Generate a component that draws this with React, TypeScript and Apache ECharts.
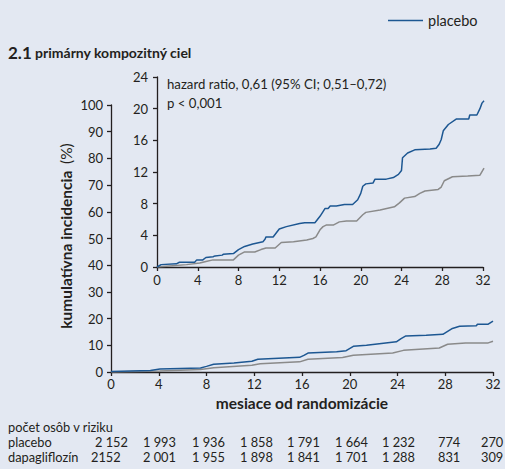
import React, { useEffect, useRef } from "react";
import * as echarts from "echarts";

// ---------- data ----------
const xTickValues = [0, 4, 8, 12, 16, 20, 24, 28, 32];

// inset (zoomed 0–24 %)
const insetPlacebo: [number, number][] = [
  [0, 0], [0.4, 0.3], [1.9, 0.4], [2.2, 0.6], [3.7, 0.6], [3.9, 0.9], [4.5, 0.9], [4.8, 1.2],
  [5.5, 1.3], [5.7, 1.4], [6.4, 1.5], [6.5, 1.6], [7.5, 1.7], [8.0, 2.2], [8.6, 2.6], [9.4, 2.9],
  [10.4, 3.2], [10.6, 3.5], [10.7, 3.8], [11.4, 3.8], [12.0, 4.8], [12.7, 5.1], [14.0, 5.5],
  [14.5, 5.6], [15.5, 5.6], [16.0, 6.4], [16.3, 7.0], [16.5, 7.4], [16.8, 7.4], [17.0, 7.7],
  [17.6, 7.7], [18.4, 7.9], [19.2, 7.9], [19.7, 8.5], [20.0, 9.3], [20.2, 10.2], [20.5, 10.5],
  [21.2, 10.6], [21.4, 11.1], [22.5, 11.1], [23.2, 11.3], [23.7, 11.7], [24.0, 12.2], [24.1, 13.8],
  [24.6, 14.4], [25.3, 14.8], [26.8, 14.9], [27.4, 15.0], [27.7, 15.5], [27.9, 16.1], [28.1, 17.2],
  [28.6, 18.0], [29.4, 18.7], [30.6, 18.7], [30.7, 19.2], [31.4, 19.2], [31.7, 20.0], [31.9, 20.7],
  [32.1, 21.0],
];
const insetDapa: [number, number][] = [
  [0, 0], [0.9, 0.1], [2.9, 0.3], [4.2, 0.5], [4.8, 0.7], [5.5, 0.9], [7.5, 0.9], [8.0, 1.5],
  [8.6, 1.9], [9.6, 1.9], [10.2, 2.2], [10.7, 2.4], [11.6, 2.4], [12.2, 3.1], [13.4, 3.2],
  [14.7, 3.4], [15.3, 3.6], [15.6, 3.8], [16.0, 4.7], [16.3, 5.1], [16.6, 5.3], [17.3, 5.3],
  [17.9, 5.7], [18.6, 5.8], [19.6, 5.8], [20.2, 6.6], [20.5, 6.9], [21.9, 7.2], [23.3, 7.6],
  [23.8, 8.1], [24.3, 8.7], [25.3, 8.9], [25.8, 9.3], [26.3, 9.6], [27.6, 9.8], [27.9, 10.1],
  [28.2, 10.9], [29.0, 11.4], [30.5, 11.5], [31.7, 11.6], [32.1, 12.5],
];

// main (0–100 %)
const mainPlacebo: [number, number][] = [
  [0, 0.2], [3.3, 0.6], [4.1, 1.1], [7.5, 1.5], [8.0, 2.1], [8.6, 2.9], [10.3, 3.4], [11.8, 4.0],
  [12.3, 4.8], [15.8, 5.5], [16.2, 6.3], [16.5, 7.1], [18.9, 7.6], [19.7, 8.0], [20.3, 9.6],
  [21.4, 10.0], [23.9, 11.3], [24.3, 12.5], [24.7, 13.5], [26.4, 13.8], [27.8, 14.1], [28.6, 16.3],
  [29.2, 17.1], [30.6, 17.3], [30.7, 17.9], [31.6, 17.9], [32, 19.1],
];
const mainDapa: [number, number][] = [
  [0, 0], [4.1, 0.4], [7.5, 0.9], [8.6, 1.6], [11.8, 2.5], [12.5, 3.1], [15.8, 3.8], [16.5, 4.8],
  [19.4, 5.4], [20.3, 6.3], [23.6, 7.1], [24.5, 8.1], [27.5, 9.0], [28.2, 10.4], [29.7, 10.9],
  [31.6, 10.9], [32, 11.5],
];

// number at risk
const riskPlacebo = ["2 152", "1 993", "1 936", "1 858", "1 791", "1 664", "1 232", "774", "270"];
const riskDapa = ["2152", "2 001", "1 955", "1 898", "1 841", "1 701", "1 288", "831", "309"];

// ---------- layout ----------
const W = 505;
const H = 469;
const FONT = "Lato, 'Noto Sans', sans-serif";
const TXT = "#231f20";
const BLUE = "#1d5792";
const GRAY = "#8a8a8a";
const riskColX = [95, 143, 192, 240, 287, 335, 382, 438, 481];

export default function App() {
  const ref = useRef<HTMLDivElement>(null);

  useEffect(() => {
    if (!ref.current) return;
    const chart = echarts.init(ref.current, null, { renderer: "svg", width: W, height: H });

    const axisLine = { show: true, lineStyle: { color: TXT, width: 1.3 } };
    const axisTick = { show: true, inside: false, length: 4, lineStyle: { color: TXT, width: 1.3 } };
    const label = { color: TXT, fontFamily: FONT, fontSize: 13 };
    const TABLE_FONT = `12.8px ${FONT}`;

    const riskTexts: any[] = [];
    riskPlacebo.forEach((t, i) => {
      riskTexts.push({
        type: "text", x: riskColX[i], y: 442,
        style: { text: t, fill: TXT, font: TABLE_FONT, align: "left", verticalAlign: "middle" },
      });
    });
    riskDapa.forEach((t, i) => {
      riskTexts.push({
        type: "text", x: i === 0 ? riskColX[i] - 4 : riskColX[i], y: 457,
        style: { text: t, fill: TXT, font: TABLE_FONT, align: "left", verticalAlign: "middle" },
      });
    });

    chart.setOption({
      animation: false,
      backgroundColor: "#e3e8f2",
      textStyle: { fontFamily: FONT },
      legend: {
        data: ["placebo"],
        left: 383,
        top: 8,
        icon: "rect",
        itemWidth: 35,
        itemHeight: 1.5,
        itemGap: 4,
        textStyle: { color: TXT, fontFamily: FONT, fontSize: 14.5 },
      },
      grid: [
        { left: 111, right: W - 493, top: 105, bottom: H - 372, containLabel: false },
        { left: 157, right: W - 483, top: 77, bottom: H - 267, containLabel: false },
      ],
      xAxis: [
        {
          type: "value", gridIndex: 0, min: 0, max: 32, interval: 4,
          axisLine, axisTick, splitLine: { show: false },
          axisLabel: { ...label, margin: 5 },
        },
        {
          type: "value", gridIndex: 1, min: 0, max: 32, interval: 4,
          axisLine, axisTick, splitLine: { show: false },
          axisLabel: { ...label, margin: 6 },
        },
      ],
      yAxis: [
        {
          type: "value", gridIndex: 0, min: 0, max: 100, interval: 10,
          axisLine, axisTick, splitLine: { show: false },
          axisLabel: { ...label, margin: 8 },
        },
        {
          type: "value", gridIndex: 1, min: 0, max: 24, interval: 4,
          axisLine, axisTick, splitLine: { show: false },
          axisLabel: { ...label, margin: 9 },
        },
      ],
      series: [
        {
          name: "dapagliflozín", type: "line", xAxisIndex: 0, yAxisIndex: 0, data: mainDapa,
          showSymbol: false, symbol: "none", lineStyle: { color: GRAY, width: 1.5 }, itemStyle: { color: GRAY },
        },
        {
          name: "placebo", type: "line", xAxisIndex: 0, yAxisIndex: 0, data: mainPlacebo,
          showSymbol: false, symbol: "none", lineStyle: { color: BLUE, width: 1.5 }, itemStyle: { color: BLUE },
        },
        {
          name: "dapagliflozín", type: "line", xAxisIndex: 1, yAxisIndex: 1, data: insetDapa,
          showSymbol: false, symbol: "none", lineStyle: { color: GRAY, width: 1.5 }, itemStyle: { color: GRAY },
        },
        {
          name: "placebo", type: "line", xAxisIndex: 1, yAxisIndex: 1, data: insetPlacebo,
          showSymbol: false, symbol: "none", lineStyle: { color: BLUE, width: 1.5 }, itemStyle: { color: BLUE },
        },
      ],
      graphic: [
        {
          type: "text", x: 8, y: 52,
          style: {
            text: "{a|2.1} {b|primárny kompozitný ciel}",
            verticalAlign: "middle",
            rich: {
              a: { fontFamily: FONT, fontSize: 17, fontWeight: "bold", fill: TXT, color: TXT },
              b: { fontFamily: FONT, fontSize: 14, fontWeight: "bold", fill: TXT, color: TXT },
            },
          },
        },
        {
          type: "text", x: 167, y: 84,
          style: { text: "hazard ratio, 0,61 (95% CI; 0,51–0,72)", fill: TXT, font: `13.2px ${FONT}`, verticalAlign: "middle" },
        },
        {
          type: "text", x: 167, y: 103,
          style: { text: "p < 0,001", fill: TXT, font: `13.2px ${FONT}`, verticalAlign: "middle" },
        },
        {
          type: "text", x: 66, y: 236, rotation: Math.PI / 2,
          style: {
            text: "{b|kumulatívna incidencia}  {n|(%)}",
            align: "center", verticalAlign: "middle",
            rich: {
              b: { fontFamily: FONT, fontSize: 15.5, fontWeight: "bold", fill: TXT, color: TXT },
              n: { fontFamily: FONT, fontSize: 15.5, fill: TXT, color: TXT },
            },
          },
        },
        {
          type: "text", x: 302, y: 403,
          style: { text: "mesiace od randomizácie", fill: TXT, font: `bold 15.5px ${FONT}`, align: "center", verticalAlign: "middle" },
        },
        {
          type: "text", x: 8, y: 427,
          style: { text: "počet osôb v riziku", fill: TXT, font: TABLE_FONT, verticalAlign: "middle" },
        },
        {
          type: "text", x: 8, y: 442,
          style: { text: "placebo", fill: TXT, font: TABLE_FONT, verticalAlign: "middle" },
        },
        {
          type: "text", x: 8, y: 457,
          style: { text: "dapagliflozín", fill: TXT, font: TABLE_FONT, verticalAlign: "middle" },
        },
        ...riskTexts,
      ],
    });

    return () => chart.dispose();
  }, []);

  return (
    <div
      ref={ref}
      style={{ position: "fixed", left: 0, top: 0, width: W, height: H }}
    />
  );
}
